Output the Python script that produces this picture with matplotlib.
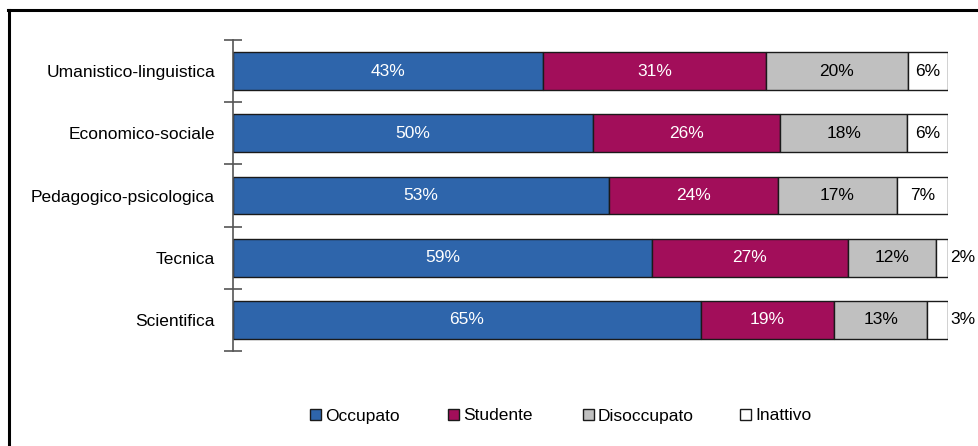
import matplotlib
matplotlib.use("Agg")
import matplotlib.pyplot as plt
from matplotlib.patches import Patch
from matplotlib import font_manager

fams = {f.name for f in font_manager.fontManager.ttflist}
FONT = "Liberation Sans Narrow" if "Liberation Sans Narrow" in fams else "Liberation Sans"
plt.rcParams['font.family'] = [FONT, 'DejaVu Sans']

categories = ["Umanistico-linguistica", "Economico-sociale", "Pedagogico-psicologica",
              "Tecnica", "Scientifica"]
series_names = ["Occupato", "Studente", "Disoccupato", "Inattivo"]
occupato = [43.4, 50.3, 52.6, 58.6, 65.4]
studente = [31.1, 26.2, 23.6, 27.4, 18.7]
disoccupato = [19.9, 17.8, 16.6, 12.3, 13.0]
inattivo = [5.6, 5.7, 7.2, 1.7, 2.9]
colors = ["#2E65AB", "#A20E5A", "#C0C0C0", "#FFFFFF"]
text_colors = ["white", "white", "black", "black"]

W, H = 979, 446
fig = plt.figure(figsize=(W / 100, H / 100), dpi=100)
ax = fig.add_axes([233 / W, 1 - 351 / H, (948 - 233) / W, (351 - 40) / H])

FS = 12.5
ypos = list(range(len(categories)))
left = [0.0] * len(categories)
for vals, name, col, tc in zip([occupato, studente, disoccupato, inattivo],
                               series_names, colors, text_colors):
    ax.barh(ypos, vals, left=left, height=0.61, color=col,
            edgecolor="#1a1a1a", linewidth=1.0, label=name)
    for y, v, l in zip(ypos, vals, left):
        lab = f"{round(v):d}%"
        if v < 4:
            ax.text(l + v + 0.3, y, lab, ha="left", va="center",
                    fontsize=FS, color="black")
        else:
            ax.text(l + v / 2, y, lab, ha="center", va="center",
                    fontsize=FS, color=tc)
    left = [a + b for a, b in zip(left, vals)]

ax.set_xlim(0, 100)
ax.set_ylim(len(categories) - 0.5, -0.5)
ax.set_yticks(ypos)
ax.set_yticklabels(categories, fontsize=FS)
ax.tick_params(axis="y", which="major", length=0, pad=13)
ax.set_yticks([i - 0.5 for i in range(len(categories) + 1)], minor=True)
ax.tick_params(axis="y", which="minor", direction="inout", length=13,
               width=1.2, color="#555555")
ax.set_xticks([])
for s in ["top", "right", "bottom"]:
    ax.spines[s].set_visible(False)
ax.spines["left"].set_color("#555555")
ax.spines["left"].set_linewidth(1.2)

# legend entries, one per series, at their positions along the bottom
leg_x = [310, 448, 583, 740]
for name, col, x in zip(series_names, colors, leg_x):
    h = Patch(facecolor=col, edgecolor="#1a1a1a", linewidth=1.0)
    lg = fig.legend([h], [name], loc="center left", bbox_to_anchor=(x / W, 1 - 416 / H),
                    frameon=False, fontsize=FS, handlelength=0.62, handleheight=0.62,
                    handletextpad=0.25, borderpad=0, borderaxespad=0)

# figure frame (top and left edges visible)
fig.add_artist(plt.Line2D([9 / W, 9 / W], [0, 1 - 9.5 / H], transform=fig.transFigure,
                          color="black", linewidth=2.2))
fig.add_artist(plt.Line2D([8 / W, 1], [1 - 9.5 / H, 1 - 9.5 / H], transform=fig.transFigure,
                          color="black", linewidth=2.2))

fig.savefig("out.png", dpi=100)
